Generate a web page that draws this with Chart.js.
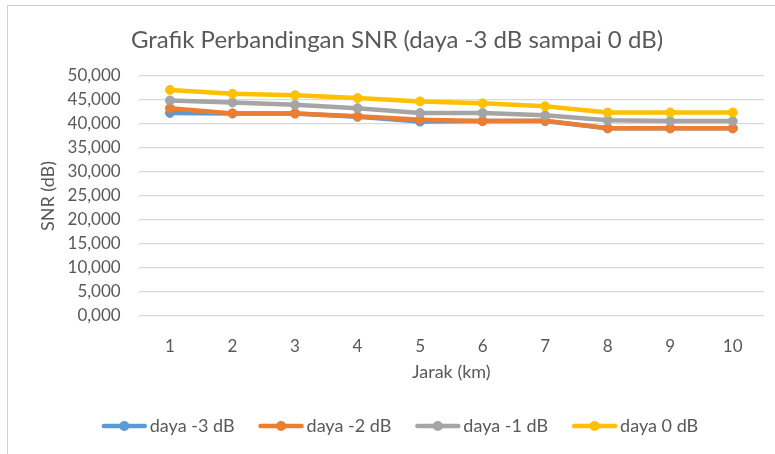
<!DOCTYPE html>
<html><head><meta charset="utf-8">
<script src="https://cdn.jsdelivr.net/npm/chart.js@4/dist/chart.umd.min.js"></script>
<style>
html,body{margin:0;padding:0;background:#fff;}
#wrap{position:relative;width:775px;height:454px;overflow:hidden;}
canvas{position:absolute;left:0;top:0;}
.bt{position:absolute;left:7px;top:5px;width:768px;height:1px;background:#d0d0d0}
.bl{position:absolute;left:7px;top:5px;width:1px;height:449px;background:#d0d0d0}
</style></head>
<body><div id="wrap"><canvas id="c" width="775" height="454"></canvas><div class="bt"></div><div class="bl"></div></div>
<script>
const chartTitle = 'Grafik Perbandingan SNR (daya -3 dB sampai 0 dB)';
const xTitle = 'Jarak (km)';
const yTitle = 'SNR (dB)';
const categories = ['1','2','3','4','5','6','7','8','9','10'];
const seriesNames = ['daya -3 dB','daya -2 dB','daya -1 dB','daya 0 dB'];
const seriesColors = ['#5B9BD5','#ED7D31','#A5A5A5','#FFC000'];
const dayaMinus3 = [42.3, 42.2, 42.2, 41.5, 40.5, 40.6, 40.6, 39.1, 39.1, 39.1];
const dayaMinus2 = [43.3, 42.2, 42.2, 41.6, 40.9, 40.6, 40.7, 39.1, 39.1, 39.1];
const dayaMinus1 = [44.9, 44.5, 44.0, 43.3, 42.3, 42.3, 41.8, 40.8, 40.6, 40.6];
const daya0      = [47.1, 46.3, 46.0, 45.4, 44.7, 44.3, 43.7, 42.4, 42.4, 42.4];
const seriesValues = [dayaMinus3, dayaMinus2, dayaMinus1, daya0];
const yMin = 0, yMax = 50, yStep = 5;

const FONT = 'Lato, "Noto Sans", sans-serif';
const TXT = '#595959';

const customText = {
  id: 'customText',
  afterDraw(chart) {
    const ctx = chart.ctx;
    ctx.save();
    ctx.fillStyle = TXT;
    ctx.font = '24px ' + FONT;
    ctx.textAlign = 'center';
    ctx.textBaseline = 'middle';
    ctx.fillText(chartTitle, 397, 40);
    ctx.font = '18px ' + FONT;
    const lineLen = 45, gapTxt = 3, gapItem = 24, cy = 426;
    const widths = seriesNames.map(n => ctx.measureText(n).width);
    const total = widths.reduce((a, w) => a + lineLen + gapTxt + w, 0) + gapItem * (seriesNames.length - 1);
    let x = 400 - total / 2;
    ctx.textAlign = 'left';
    seriesNames.forEach((n, i) => {
      ctx.strokeStyle = seriesColors[i];
      ctx.lineWidth = 4.5;
      ctx.lineCap = 'round';
      ctx.beginPath();
      ctx.moveTo(x + 2, cy);
      ctx.lineTo(x + lineLen - 2, cy);
      ctx.stroke();
      ctx.fillStyle = seriesColors[i];
      ctx.beginPath();
      ctx.arc(x + lineLen / 2, cy, 5, 0, Math.PI * 2);
      ctx.fill();
      ctx.fillStyle = TXT;
      ctx.fillText(n, x + lineLen + gapTxt, cy);
      x += lineLen + gapTxt + widths[i] + gapItem;
    });
    ctx.restore();
  }
};

new Chart(document.getElementById('c'), {
  type: 'line',
  data: {
    labels: categories,
    datasets: seriesValues.map((vals, i) => ({
      label: seriesNames[i],
      data: vals,
      borderColor: seriesColors[i],
      backgroundColor: seriesColors[i],
      pointBackgroundColor: seriesColors[i],
      pointBorderColor: seriesColors[i],
      borderWidth: 4.5,
      pointRadius: 4.5,
      pointBorderWidth: 1,
      tension: 0,
      fill: false,
      order: seriesValues.length - 1 - i
    }))
  },
  options: {
    responsive: false,
    animation: false,
    devicePixelRatio: 1,
    layout: { padding: { left: 0, top: 76, right: 11, bottom: 68 } },
    plugins: { legend: { display: false }, title: { display: false }, tooltip: { enabled: false } },
    scales: {
      x: {
        offset: true,
        grid: { display: false },
        border: { display: false },
        ticks: { color: TXT, font: { family: FONT, size: 17 }, padding: 12, maxRotation: 0 },
        title: { display: true, text: xTitle, color: TXT, font: { family: FONT, size: 18 }, padding: { top: 0, bottom: 3 } },
        afterFit(s) { s.height = 70; }
      },
      y: {
        min: yMin, max: yMax,
        ticks: { stepSize: yStep, color: TXT, font: { family: FONT, size: 17 }, padding: 18,
          callback: v => v.toFixed(3).replace('.', ',') },
        grid: { color: '#D9D9D9', lineWidth: 1.3, drawTicks: false },
        border: { display: false },
        title: { display: true, text: yTitle, color: TXT, font: { family: FONT, size: 18 }, padding: { top: 37, bottom: 0 } },
        afterFit(s) { s.width = 138.7; }
      }
    }
  },
  plugins: [customText]
});
</script>
</body></html>
